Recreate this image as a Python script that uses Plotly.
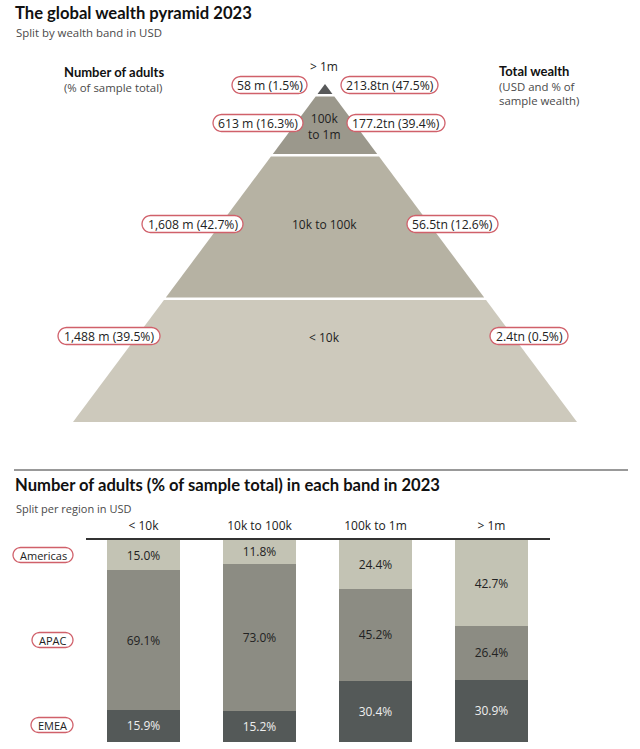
import math
import plotly.graph_objects as go

# ---------------- data ----------------
bands = ["> 1m", "100k<br>to 1m", "10k to 100k", "< 10k"]
adults_m = [58, 613, 1608, 1488]
adults_pct = [1.5, 16.3, 42.7, 39.5]
wealth_tn = [213.8, 177.2, 56.5, 2.4]
wealth_pct = [47.5, 39.4, 12.6, 0.5]

bar_cats = ["< 10k", "10k to 100k", "100k to 1m", "> 1m"]
regions = ["EMEA", "APAC", "Americas"]
emea = [15.9, 15.2, 30.4, 30.9]
apac = [69.1, 73.0, 45.2, 26.4]
americas = [15.0, 11.8, 24.4, 42.7]

# ---------------- layout constants ----------------
W, H = 640, 749
FONT = "Open Sans"
BFONT = "Lato"
DARK = "#222222"
GREY = "#4a4a4a"
RED = "#d0606a"

APEX_X, APEX_Y, BASE_Y, BASE_HW = 325, 84, 422, 252
band_edges = [(84, 94), (96.5, 154), (156.5, 297.5), (300, 422)]
band_colors = ["#58595a", "#9b988c", "#b6b2a3", "#cdc9bc"]
band_label_y = [66, 126, 224, 337]
pill_y = [85, 123, 224, 336]
left_pill_x = [(232, 307), (213, 303), (142, 243), (58, 160)]
right_pill_x = [(341, 438), (347, 445), (407, 498), (490, 568)]

region_pill = {"Americas": (13, 73, 555), "APAC": (32, 73, 640), "EMEA": (31, 73, 725)}
bar_colors = {"EMEA": "#545958", "APAC": "#8c8c83", "Americas": "#c3c3b4"}
bar_text_colors = {"EMEA": "#eeeeee", "APAC": DARK, "Americas": DARK}

fig = go.Figure()


def hw(y):
    return (y - APEX_Y) / (BASE_Y - APEX_Y) * BASE_HW


for (y0, y1), c in zip(band_edges, band_colors):
    xs = [APEX_X - hw(y0), APEX_X + hw(y0), APEX_X + hw(y1), APEX_X - hw(y1), APEX_X - hw(y0)]
    ys = [y0, y0, y1, y1, y0]
    fig.add_trace(go.Scatter(x=xs, y=ys, fill="toself", fillcolor=c, line=dict(width=0),
                             mode="lines", hoverinfo="skip", showlegend=False,
                             xaxis="x", yaxis="y"))

shapes = []
annotations = []


def pill(x0, x1, yc, h, text, size=11):
    r = h / 2.0
    pts = []
    n = 12
    for k in range(n + 1):
        a = -math.pi / 2 + math.pi * k / n
        pts.append((x1 - r + r * math.cos(a), yc + r * math.sin(a)))
    for k in range(n + 1):
        a = math.pi / 2 + math.pi * k / n
        pts.append((x0 + r + r * math.cos(a), yc + r * math.sin(a)))
    path = "M " + " L ".join(f"{px:.2f},{py:.2f}" for px, py in pts) + " Z"
    shapes.append(dict(type="path", path=path, xref="x", yref="y",
                       line=dict(color=RED, width=1.3), fillcolor="white", layer="above"))
    annotations.append(dict(x=(x0 + x1) / 2, y=yc, xref="x", yref="y", text=text,
                            showarrow=False, xanchor="center", yanchor="middle",
                            font=dict(family=FONT, size=size, color=DARK)))


def text(x, y, t, size=11, bold=False, color=DARK, xanchor="left"):
    fam = FONT
    if bold:
        t = f"<b>{t}</b>"
        fam = BFONT
    annotations.append(dict(x=x, y=y, xref="x", yref="y", text=t, showarrow=False,
                            xanchor=xanchor, yanchor="middle", align="left",
                            font=dict(family=fam, size=size, color=color)))


# pyramid labels
for i in range(4):
    lx0, lx1 = left_pill_x[i]
    rx0, rx1 = right_pill_x[i]
    pill(lx0, lx1, pill_y[i], 17, f"{adults_m[i]:,} m ({adults_pct[i]:.1f}%)", size=12.2)
    pill(rx0, rx1, pill_y[i], 17, f"{wealth_tn[i]:.1f}tn ({wealth_pct[i]:.1f}%)", size=12.2)
    annotations.append(dict(x=APEX_X - 1, y=band_label_y[i], xref="x", yref="y", text=bands[i],
                            showarrow=False, xanchor="center", yanchor="middle",
                            font=dict(family=FONT, size=12, color=DARK)))

# titles
text(13, 13, "The global wealth pyramid 2023", size=16.6, bold=True, color="#111111")
text(14, 32, "Split by wealth band in USD", size=11.4, color=GREY)
text(62, 72, "Number of adults", size=13, bold=True, color="#111111")
text(62, 87, "(% of sample total)", size=11.4, color=GREY)
text(497, 71, "Total wealth", size=13, bold=True, color="#111111")
text(497, 86, "(USD and % of", size=11.4, color=GREY)
text(497, 100, "sample wealth)", size=11.4, color=GREY)

shapes.append(dict(type="line", xref="x", yref="y", x0=14, x1=628, y0=470, y1=470,
                   line=dict(color="#777777", width=1.5)))
text(13, 485, "Number of adults (% of sample total) in each band in 2023", size=16.6,
     bold=True, color="#111111")
text(14, 508, "Split per region in USD", size=11, color=GREY)

for reg, (x0, x1, yc) in region_pill.items():
    pill(x0, x1, yc, 15, reg, size=11)

# stacked bars
for reg, vals in zip(regions, [emea, apac, americas]):
    fig.add_trace(go.Bar(x=bar_cats, y=vals, name=reg,
                         marker=dict(color=bar_colors[reg], line=dict(width=0)),
                         text=[f"{v:.1f}%" for v in vals], textposition="inside",
                         insidetextanchor="middle", textangle=0,
                         textfont=dict(family=FONT, size=12, color=bar_text_colors[reg]),
                         hoverinfo="skip", showlegend=False, xaxis="x2", yaxis="y2"))


def px_x(p):
    return p / W


def px_y(p):
    return 1 - p / H


fig.update_layout(
    width=W, height=H, margin=dict(l=0, r=0, t=0, b=0),
    paper_bgcolor="white", plot_bgcolor="white",
    barmode="stack", bargap=0.37, showlegend=False,
    font=dict(family=FONT, color=DARK),
    xaxis=dict(domain=[0, 1], range=[0, W], visible=False, fixedrange=True),
    yaxis=dict(domain=[0, 1], range=[H, 0], visible=False, fixedrange=True),
    xaxis2=dict(domain=[px_x(85.5), px_x(549.5)], anchor="y2", side="top", showline=True,
                linecolor="#333333", linewidth=2, ticks="", showgrid=False,
                tickfont=dict(family=FONT, size=12, color=DARK), ticklabelstandoff=3),
    yaxis2=dict(domain=[px_y(742), px_y(540)], anchor="x2", range=[0, 100],
                visible=False, showgrid=False),
    shapes=shapes, annotations=annotations,
)

fig.write_html("out.html",
               config={"displayModeBar": False, "staticPlot": True},
               post_script="document.body.style.margin='0';document.body.style.overflow='hidden';")
